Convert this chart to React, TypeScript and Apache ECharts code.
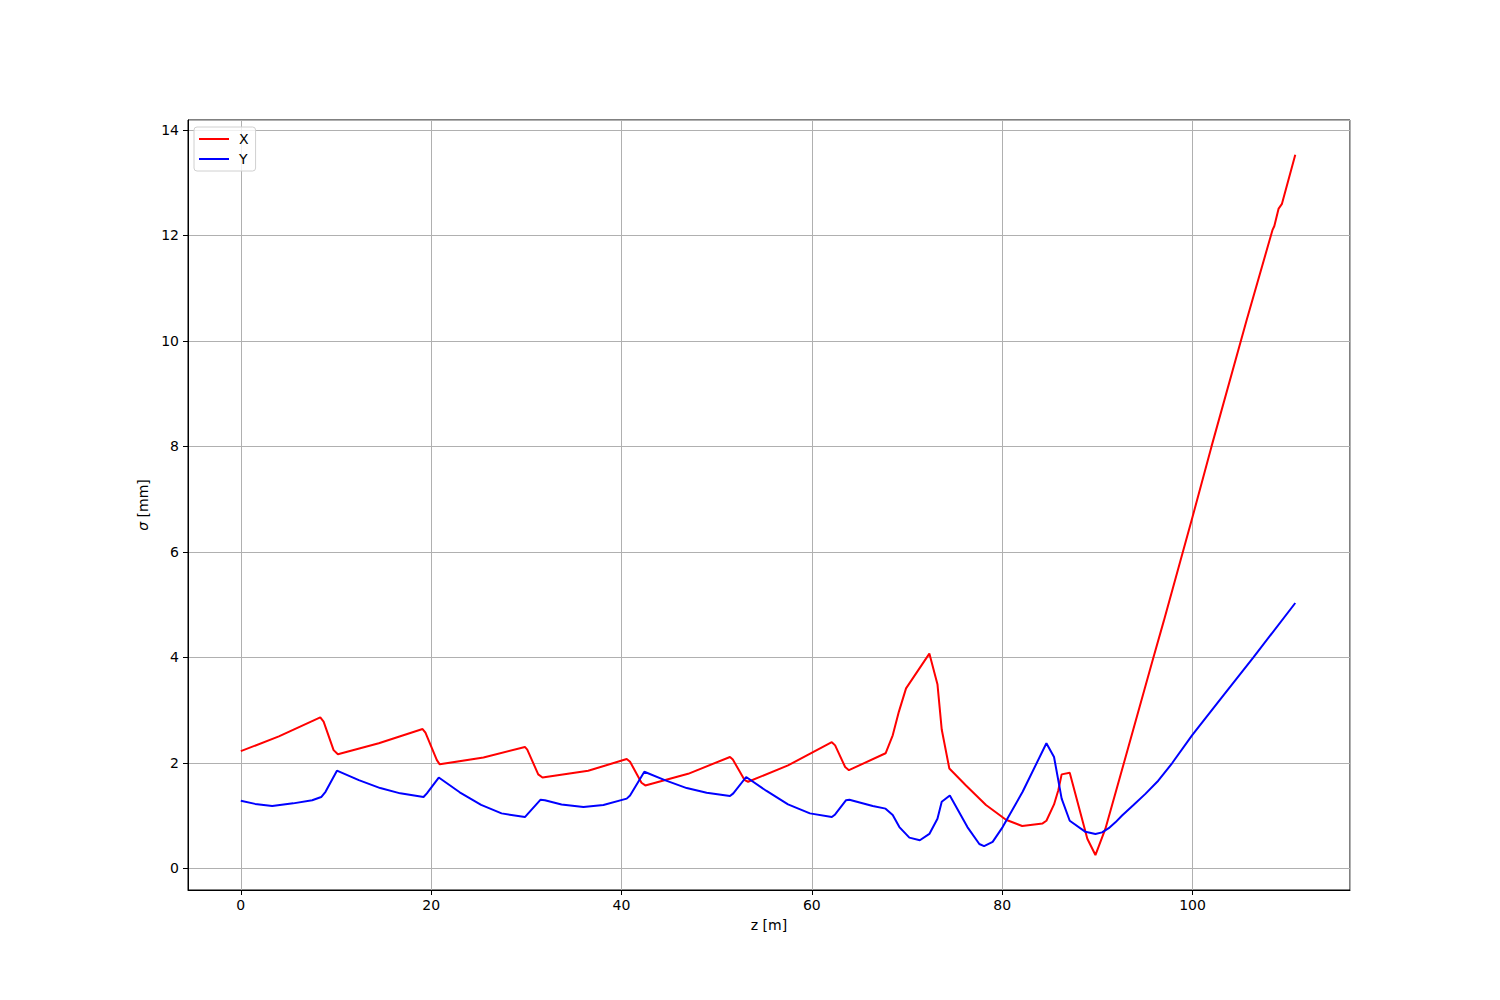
import React, { useEffect, useRef } from "react";
import * as echarts from "echarts";

const zX = [0, 4, 8.35, 8.7, 9.75, 10.2, 14.5, 19.1, 19.4, 20.6, 20.9, 25.5, 29.85, 30.1, 31.25, 31.7, 36.5, 40.55, 40.9, 42.1, 42.5, 47, 51.4, 51.7, 52.95, 53.3, 57.5, 62.1, 62.45, 63.5, 63.9, 67.75, 68.5, 69.15, 69.9, 72.35, 73.2, 73.65, 74.45, 76.2, 78.3, 80.4, 82.1, 84.25, 84.65, 85.45, 85.9, 86.25, 87.1, 88.95, 89.8, 90.85, 92.8, 95.9, 97.0, 100, 102, 105.7, 108.4, 108.6, 109.05, 109.4, 110.8];
const sigmaX = [2.22, 2.5, 2.86, 2.78, 2.24, 2.16, 2.37, 2.64, 2.57, 2.05, 1.97, 2.1, 2.3, 2.25, 1.78, 1.72, 1.85, 2.07, 2.02, 1.62, 1.57, 1.79, 2.11, 2.06, 1.67, 1.64, 1.95, 2.39, 2.33, 1.92, 1.86, 2.18, 2.52, 2.97, 3.41, 4.07, 3.49, 2.63, 1.89, 1.57, 1.2, 0.92, 0.8, 0.85, 0.9, 1.21, 1.48, 1.78, 1.81, 0.56, 0.25, 0.75, 2.0, 4.0, 4.7, 6.66, 8.0, 10.4, 12.1, 12.18, 12.51, 12.6, 13.53];

const zY = [0, 1.5, 3.3, 5.5, 7.5, 8.45, 8.9, 10.1, 12.4, 14.65, 16.75, 19.2, 19.55, 20.8, 23.0, 25.25, 27.4, 29.85, 30.2, 31.5, 31.95, 33.7, 36.0, 38.1, 40.55, 40.9, 42.4, 44.55, 46.85, 48.95, 51.4, 51.75, 53.1, 55.2, 57.5, 59.8, 62.1, 62.45, 63.6, 63.95, 66.4, 67.75, 68.5, 69.2, 70.25, 71.35, 72.35, 73.2, 73.65, 74.5, 76.35, 77.6, 78.1, 79.0, 80.05, 82.15, 84.65, 85.45, 86.25, 87.1, 88.75, 89.8, 90.5, 91.2, 91.9, 92.6, 93.8, 95.05, 96.4, 97.85, 99.95, 103, 106.4, 110.8];
const sigmaY = [1.28, 1.22, 1.18, 1.23, 1.29, 1.35, 1.45, 1.85, 1.67, 1.52, 1.42, 1.35, 1.42, 1.72, 1.44, 1.2, 1.04, 0.97, 1.04, 1.3, 1.29, 1.21, 1.16, 1.2, 1.32, 1.38, 1.83, 1.67, 1.52, 1.43, 1.37, 1.42, 1.73, 1.47, 1.21, 1.04, 0.97, 1.02, 1.29, 1.3, 1.18, 1.13, 1.01, 0.78, 0.58, 0.53, 0.65, 0.94, 1.26, 1.38, 0.78, 0.46, 0.42, 0.5, 0.78, 1.45, 2.37, 2.11, 1.32, 0.9, 0.69, 0.65, 0.68, 0.76, 0.87, 1.0, 1.2, 1.41, 1.66, 1.99, 2.52, 3.22, 4.0, 5.03];

const seriesNames = ["X", "Y"];
const seriesColors = ["#ff0000", "#0000ff"];

const FONT = "DejaVu Sans";

export default function App() {
  const ref = useRef<HTMLDivElement>(null);
  useEffect(() => {
    if (!ref.current) return;
    const chart = echarts.init(ref.current, undefined, { renderer: "svg" });
    const pairs = (xs: number[], ys: number[]) => xs.map((x, i) => [x, ys[i]]);
    chart.setOption({
      animation: false,
      backgroundColor: "#ffffff",
      textStyle: { fontFamily: FONT },
      grid: {
        left: 188,
        right: 150,
        top: 120,
        bottom: 110,
        show: true,
        borderColor: "#000",
        borderWidth: 1,
        containLabel: false,
      },
      legend: {
        left: 194,
        top: 127,
        orient: "vertical",
        icon: "rect",
        itemWidth: 30,
        itemHeight: 2,
        itemGap: 6,
        padding: [5, 7, 5, 5],
        borderColor: "#d0d0d0",
        borderWidth: 1,
        borderRadius: 3,
        backgroundColor: "rgba(255,255,255,0.8)",
        textStyle: { fontFamily: FONT, fontSize: 14, color: "#000", lineHeight: 14, padding: [0, 0, 0, 5] },
        data: seriesNames,
      },
      xAxis: {
        type: "value",
        min: -5.55,
        max: 116.55,
        splitNumber: 6,
        name: "z [m]",
        nameLocation: "middle",
        nameGap: 28,
        nameTextStyle: { fontFamily: FONT, fontSize: 14, color: "#000" },
        axisLine: { show: true, onZero: false, lineStyle: { color: "#000", width: 1 } },
        axisTick: { show: true, length: 5, inside: false, lineStyle: { color: "#000" } },
        axisLabel: { showMinLabel: false, showMaxLabel: false, fontFamily: FONT, fontSize: 14, color: "#000", margin: 8 },
        splitLine: { show: true, lineStyle: { color: "#b0b0b0", width: 1 } },
      },
      yAxis: {
        type: "value",
        min: -0.413,
        max: 14.19,
        splitNumber: 7,
        name: "{i|σ} [mm]",
        nameLocation: "middle",
        nameGap: 38,
        nameRotate: 90,
        nameTextStyle: {
          fontFamily: FONT,
          fontSize: 14,
          color: "#000",
          rich: { i: { fontFamily: FONT, fontSize: 14, fontStyle: "italic", color: "#000" } },
        },
        axisLine: { show: true, onZero: false, lineStyle: { color: "#000", width: 1 } },
        axisTick: { show: true, length: 5, inside: false, lineStyle: { color: "#000" } },
        axisLabel: { showMinLabel: false, showMaxLabel: false, fontFamily: FONT, fontSize: 14, color: "#000", margin: 9 },
        splitLine: { show: true, lineStyle: { color: "#b0b0b0", width: 1 } },
      },
      series: [
        {
          name: seriesNames[0],
          type: "line",
          data: pairs(zX, sigmaX),
          symbol: "none",
          showSymbol: false,
          lineStyle: { color: seriesColors[0], width: 2 },
          itemStyle: { color: seriesColors[0] },
        },
        {
          name: seriesNames[1],
          type: "line",
          data: pairs(zY, sigmaY),
          symbol: "none",
          showSymbol: false,
          lineStyle: { color: seriesColors[1], width: 2 },
          itemStyle: { color: seriesColors[1] },
        },
      ],
    });
    return () => chart.dispose();
  }, []);
  return (
    <div
      ref={ref}
      style={{ position: "absolute", left: 0, top: 0, width: 1500, height: 1000 }}
    />
  );
}
